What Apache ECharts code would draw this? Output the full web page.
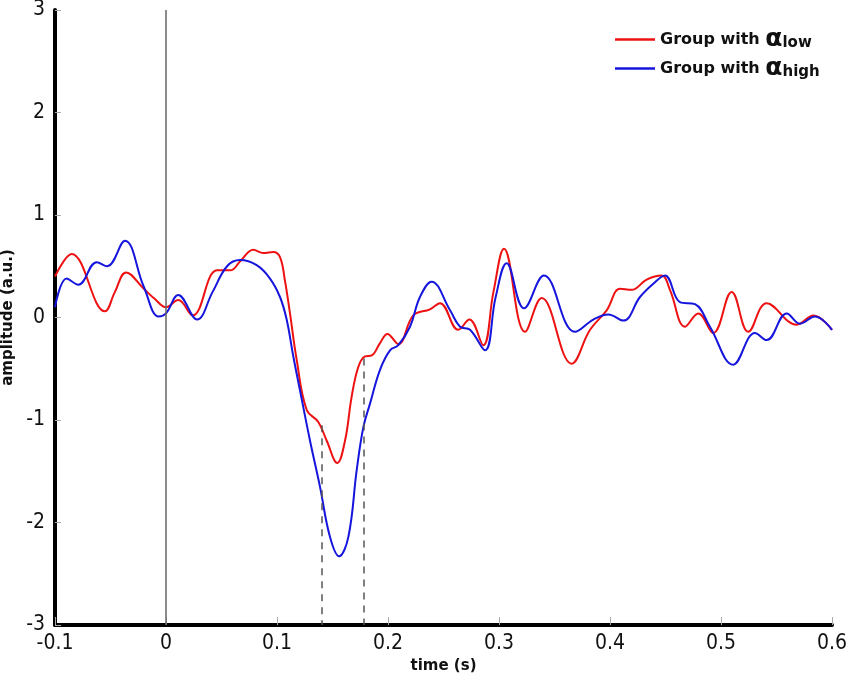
<!DOCTYPE html>
<html>
<head>
<meta charset="utf-8">
<script src="https://cdn.jsdelivr.net/npm/echarts@6/dist/echarts.min.js"></script>
<style>html,body{margin:0;padding:0;background:#fff}#c{width:850px;height:680px}</style>
</head>
<body>
<div id="c"></div>
<script>
var redT = [-0.100,-0.085,-0.055,-0.046,-0.036,-0.020,-0.010,0.000,0.011,0.024,0.046,0.058,0.067,0.0786,0.0877,0.0967,0.1027,0.107,0.1117,0.1177,0.1267,0.1372,0.1447,0.1543,0.1613,0.1673,0.1733,0.1793,0.1853,0.1928,0.1994,0.2093,0.2228,0.2378,0.2468,0.2633,0.2733,0.2858,0.295,0.3045,0.3234,0.3384,0.3655,0.382,0.397,0.409,0.4195,0.433,0.4466,0.454,0.4676,0.4795,0.493,0.5096,0.5246,0.5411,0.5682,0.5832,0.600];
var redV = [0.40,0.62,0.06,0.25,0.44,0.28,0.18,0.10,0.17,0.02,0.46,0.46,0.55,0.66,0.63,0.64,0.59,0.37,0.04,-0.41,-0.90,-1.02,-1.20,-1.42,-1.20,-0.77,-0.48,-0.38,-0.37,-0.25,-0.16,-0.26,0.02,0.08,0.14,-0.12,-0.02,-0.27,0.25,0.67,-0.14,0.19,-0.45,-0.12,0.07,0.28,0.27,0.37,0.41,0.27,-0.09,0.04,-0.15,0.25,-0.14,0.14,-0.07,0.02,-0.12];
var blueT = [-0.100,-0.0895,-0.079,-0.0624,-0.053,-0.037,-0.020,-0.0066,0.000,0.011,0.028,0.042,0.055,0.0667,0.0817,0.0937,0.1027,0.1087,0.1147,0.1207,0.1297,0.1387,0.1477,0.1559,0.1643,0.1718,0.1778,0.1838,0.1928,0.2018,0.2093,0.2198,0.2288,0.2393,0.2559,0.2649,0.2739,0.2874,0.297,0.3069,0.3225,0.3405,0.3685,0.385,0.3985,0.412,0.427,0.439,0.4495,0.463,0.4766,0.490,0.511,0.5306,0.5411,0.5592,0.5712,0.5847,0.600];
var blueV = [0.10,0.38,0.32,0.54,0.50,0.75,0.30,0.01,0.04,0.22,-0.02,0.25,0.50,0.56,0.51,0.38,0.20,-0.02,-0.38,-0.71,-1.20,-1.65,-2.14,-2.33,-2.14,-1.49,-1.07,-0.84,-0.51,-0.32,-0.27,-0.09,0.20,0.35,0.07,-0.09,-0.12,-0.32,0.20,0.53,0.09,0.41,-0.14,-0.02,0.03,-0.03,0.20,0.33,0.41,0.15,0.13,-0.09,-0.46,-0.15,-0.22,0.04,-0.06,0.01,-0.12];
var dashT = [0.14, 0.178];
var dashTop = [-1.05, -0.40];
var seriesNames = ['Group with {a|α}{s|low}', 'Group with {a|α}{s|high}'];

function zip(t, v) { return t.map(function (x, i) { return [x, v[i]]; }); }

var fontLab = '"DejaVu Sans Condensed","Liberation Sans Narrow","DejaVu Sans",sans-serif';
var chart = echarts.init(document.getElementById('c'));
chart.setOption({
  animation: false,
  backgroundColor: '#fff',
  grid: { left: 55, right: 18, top: 10, bottom: 55, outerBoundsMode: 'none', containLabel: false },
  legend: {
    orient: 'vertical', left: 610, top: 22, itemWidth: 40, itemHeight: 2.5, itemGap: 4,
    icon: 'rect',
    data: seriesNames,
    textStyle: {
      fontFamily: '"DejaVu Sans",sans-serif', fontWeight: 'bold', fontSize: 16, color: '#111',
      rich: {
        a: { fontSize: 25, fontWeight: 'bold', fontFamily: '"DejaVu Sans",sans-serif', color: '#111' },
        s: { fontSize: 15, fontWeight: 'bold', fontFamily: '"DejaVu Sans",sans-serif', color: '#111', padding: [8, 0, 0, 0] }
      }
    }
  },
  xAxis: {
    type: 'value', min: -0.1, max: 0.6, interval: 0.1,
    name: 'time (s)', nameLocation: 'middle', nameGap: 34,
    nameTextStyle: { fontFamily: '"DejaVu Sans",sans-serif', fontWeight: 'bold', fontSize: 15, color: '#111' },
    axisLine: { show: true, onZero: false, lineStyle: { color: '#000', width: 4 } },
    axisTick: { show: true, inside: true, length: 8, lineStyle: { color: '#aaa', width: 1 } },
    axisLabel: { fontSize: 21, color: '#111', fontFamily: fontLab, margin: 8,
      formatter: function (v) { return String(Math.round(v * 10) / 10); } },
    splitLine: { show: false }
  },
  yAxis: {
    type: 'value', min: -3, max: 3, interval: 1,
    name: 'amplitude (a.u.)', nameLocation: 'middle', nameGap: 37,
    nameTextStyle: { fontFamily: '"DejaVu Sans",sans-serif', fontWeight: 'bold', fontSize: 15, color: '#111' },
    axisLine: { show: true, onZero: false, lineStyle: { color: '#000', width: 4 } },
    axisTick: { show: true, inside: true, length: 6, lineStyle: { color: '#aaa', width: 1 } },
    axisLabel: { fontSize: 21, color: '#111', fontFamily: fontLab, margin: 10 },
    splitLine: { show: false }
  },
  series: [
    {
      name: seriesNames[0], type: 'line', data: zip(redT, redV), smooth: 0.4,
      symbol: 'none', z: 3,
      lineStyle: { color: '#ee1111', width: 2 }, itemStyle: { color: '#ee1111' },
      markLine: {
        silent: true, symbol: 'none', label: { show: false }, animation: false,
        data: [
          [{ coord: [0, -3], lineStyle: { color: '#666', width: 1.5, type: 'solid' } }, { coord: [0, 3] }],
          [{ coord: [dashT[0], dashTop[0]], lineStyle: { color: '#555', width: 1.5, type: [7, 6] } }, { coord: [dashT[0], -3] }],
          [{ coord: [dashT[1], dashTop[1]], lineStyle: { color: '#555', width: 1.5, type: [7, 6] } }, { coord: [dashT[1], -3] }]
        ]
      }
    },
    {
      name: seriesNames[1], type: 'line', data: zip(blueT, blueV), smooth: 0.4,
      symbol: 'none', z: 4,
      lineStyle: { color: '#1515dd', width: 2 }, itemStyle: { color: '#1515dd' }
    }
  ]
});
</script>
</body>
</html>
